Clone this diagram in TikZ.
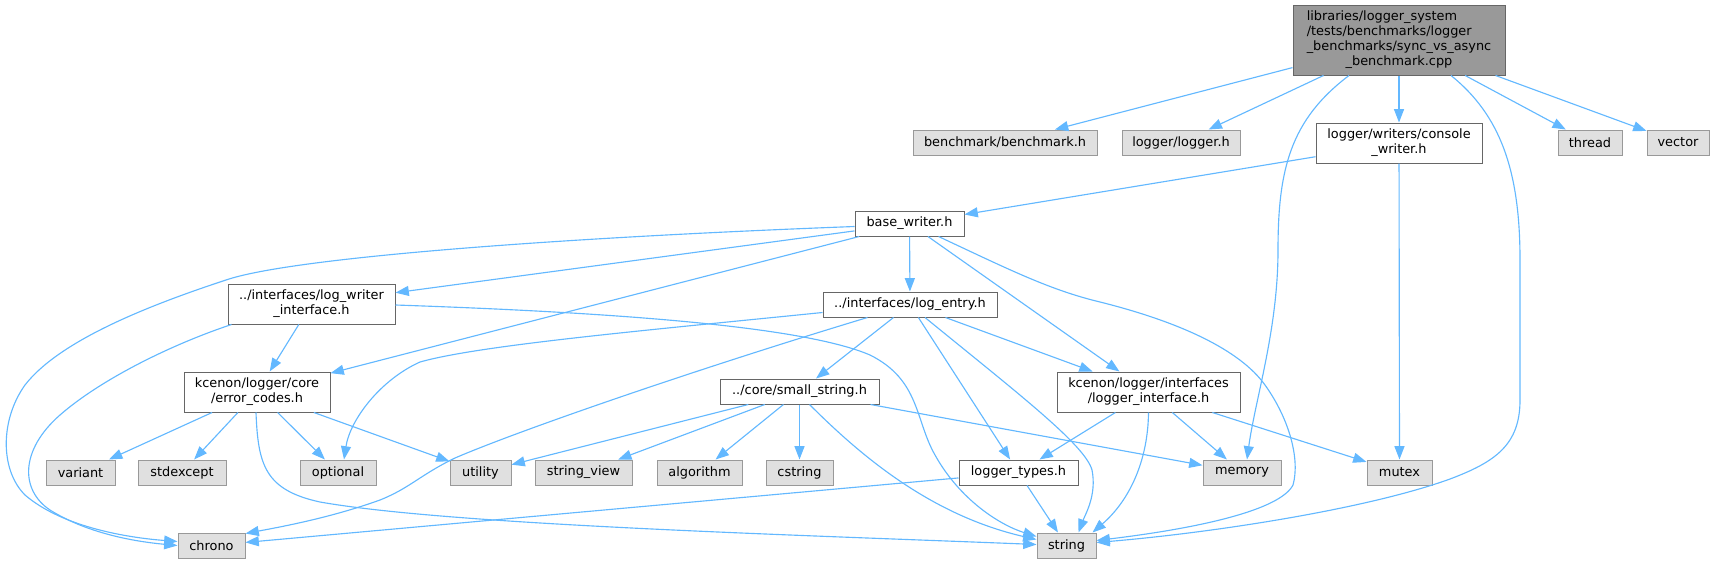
\documentclass[tikz,border=0pt]{standalone}
\usepackage{fontspec}
\setmainfont{DejaVu Sans}
\usetikzlibrary{arrows.meta,calc}
\definecolor{edgec}{HTML}{63B8FF}
\definecolor{cSix}{HTML}{666666}
\definecolor{cNine}{HTML}{999999}
\definecolor{cExt}{HTML}{E0E0E0}
\begin{document}
\begin{tikzpicture}[x=0.75pt,y=-0.75pt,
 lbl/.style={font=\fontsize{9.66}{11.25}\selectfont, inner sep=0pt, align=center, line width=0.75pt, text=black},
 mainbox/.style={lbl, draw=cSix, fill=cNine},
 intbox/.style={lbl, draw=cSix, fill=white},
 extbox/.style={lbl, draw=cNine, fill=cExt},
 sz/.style 2 args={minimum width={#1*0.75pt}, minimum height={#2*0.75pt}},
 dep/.style={draw=edgec, line width=0.85pt, -{Triangle[length=10pt,width=7.5pt]}}]
\useasboundingbox (0,0) rectangle (1715,564);

% nodes
\node[mainbox, sz={212}{70}] (main) at (1399,40) {\begin{tabular}{@{}l@{}}libraries/logger\_system\\/tests/benchmarks/logger\\\_benchmarks/sync\_vs\_async\\\multicolumn{1}{@{}c@{}}{\_benchmark.cpp}\end{tabular}};
\node[extbox, sz={184}{25}] (bench) at (1005,142.5) {benchmark/benchmark.h};
\node[extbox, sz={118}{25}] (loggerh) at (1181,142.5) {logger/logger.h};
\node[intbox, sz={166}{40}] (console) at (1399,143) {logger/writers/console\\\_writer.h};
\node[extbox, sz={64}{25}] (thread) at (1590,142.5) {thread};
\node[extbox, sz={62}{25}] (vector) at (1678,142.5) {vector};
\node[intbox, sz={109}{25}] (base) at (909.5,223.5) {base\_writer.h};
\node[intbox, sz={167}{40}] (lwi) at (311.5,304) {../interfaces/log\_writer\\\_interface.h};
\node[intbox, sz={174}{25}] (logentry) at (910,304.5) {../interfaces/log\_entry.h};
\node[intbox, sz={146}{40}] (errc) at (257,392) {kcenon/logger/core\\/error\_codes.h};
\node[intbox, sz={159}{25}] (smalls) at (799.5,391.5) {../core/small\_string.h};
\node[intbox, sz={183}{40}] (linterf) at (1148.5,392) {kcenon/logger/interfaces\\/logger\_interface.h};
\node[extbox, sz={69}{25}] (variant) at (80.5,472.5) {variant};
\node[extbox, sz={88}{25}] (stdexcept) at (182,472.5) {stdexcept};
\node[extbox, sz={76}{25}] (optional) at (338,472.5) {optional};
\node[extbox, sz={61}{25}] (utility) at (480.5,472.5) {utility};
\node[extbox, sz={97}{25}] (sview) at (583.5,472.5) {string\_view};
\node[extbox, sz={85}{25}] (algorithm) at (699.5,472.5) {algorithm};
\node[extbox, sz={67}{25}] (cstring) at (799.5,472.5) {cstring};
\node[intbox, sz={119}{25}] (ltypes) at (1018.5,472.5) {logger\_types.h};
\node[extbox, sz={78}{25}] (memory) at (1242,472.5) {memory};
\node[extbox, sz={65}{25}] (mutex) at (1399.5,472.5) {mutex};
\node[extbox, sz={67}{25}] (chrono) at (211.5,545.5) {chrono};
\node[extbox, sz={59}{25}] (string) at (1066.5,545.5) {string};

% main file
\draw[dep] (main) -- (bench);
\draw[dep] (main) -- (loggerh);
\draw[dep] (main) -- (console);
\draw[dep] (main) -- (thread);
\draw[dep] (main) -- (vector);
\draw[dep] ($(main.south)+(-50,0)$) .. controls (1290,120) and (1278,170) .. (1278,250) .. controls (1278,330) and (1255,400) .. ($(memory.north)+(5,0)$);
\draw[dep] ($(main.south)+(52,0)$) .. controls (1500,115) and (1520,170) .. (1520,260) -- (1520,400) .. controls (1520,445) and (1495,462) .. (1450,479) .. controls (1370,508) and (1220,532) .. ($(string.east)+(0,-3)$);

% console writer
\draw[dep] (console) -- (base);
\draw[dep] (console) -- (mutex);

% base writer
\draw[dep] ($(base.west)+(0,3)$) .. controls (550,238) and (290,258) .. (226,280) .. controls (150,305) and (60,340) .. (25,385) .. controls (0,420) and (0,470) .. (25,495) .. controls (60,525) and (120,537) .. ($(chrono.west)+(0,-4)$);
\draw[dep] (base) -- (lwi);
\draw[dep] (base) -- (errc);
\draw[dep] (base) -- (logentry);
\draw[dep] (base) -- (linterf);
\draw[dep] ($(base.south)+(29,0)$) .. controls (1010,270) and (1050,290) .. (1100,302) .. controls (1180,322) and (1240,350) .. (1265,385) .. controls (1290,420) and (1300,460) .. (1293,485) .. controls (1280,510) and (1200,528) .. ($(string.east)+(0,-5)$);

% log writer interface
\draw[dep] (lwi) -- (errc);
\draw[dep] ($(lwi.south west)+(4,0)$) .. controls (170,345) and (100,380) .. (60,415) .. controls (20,450) and (20,490) .. (50,510) .. controls (90,535) and (140,542) .. (chrono.west);
\draw[dep] ($(lwi.east)+(0,1)$) .. controls (600,312) and (800,325) .. (870,355) .. controls (920,380) and (915,420) .. (935,455) .. controls (960,500) and (1000,525) .. ($(string.west)+(0,-9)$);

% log entry
\draw[dep] ($(logentry.west)+(0,8)$) .. controls (650,330) and (480,345) .. (420,362) .. controls (380,380) and (350,420) .. ($(optional.north)+(6,0)$);
\draw[dep] ($(logentry.south west)+(45,0)$) .. controls (700,368) and (520,430) .. (455,458) .. controls (420,475) and (410,488) .. (380,500) .. controls (330,518) and (280,527) .. ($(chrono.north east)+(0,1)$);
\draw[dep] (logentry) -- (smalls);
\draw[dep] (logentry) -- (ltypes);
\draw[dep] ($(logentry.south)+(15,0)$) .. controls (1020,395) and (1085,445) .. (1092,470) .. controls (1097,495) and (1085,515) .. ($(string.north)+(12,0)$);
\draw[dep] (logentry) -- (linterf);

% error codes
\draw[dep] (errc) -- (variant);
\draw[dep] (errc) -- (stdexcept);
\draw[dep] (errc) -- (optional);
\draw[dep] (errc) -- (utility);
\draw[dep] ($(errc.south)+(-1,0)$) .. controls (258,465) and (265,490) .. (320,502) .. controls (450,525) and (800,535) .. ($(string.west)+(0,-1)$);

% small string
\draw[dep] (smalls) -- (utility);
\draw[dep] (smalls) -- (sview);
\draw[dep] (smalls) -- (algorithm);
\draw[dep] (smalls) -- (cstring);
\draw[dep] ($(smalls.south)+(10,0)$) .. controls (860,455) and (930,515) .. ($(string.west)+(0,-6)$);
\draw[dep] (smalls) -- (memory);

% logger interface
\draw[dep] (linterf) -- (ltypes);
\draw[dep] (linterf) -- (memory);
\draw[dep] (linterf.south) .. controls (1148,460) and (1130,500) .. ($(string.north east)+(-4,0)$);
\draw[dep] (linterf) -- (mutex);

% logger types
\draw[dep] (ltypes) -- (chrono);
\draw[dep] (ltypes) -- (string);
\end{tikzpicture}
\end{document}
